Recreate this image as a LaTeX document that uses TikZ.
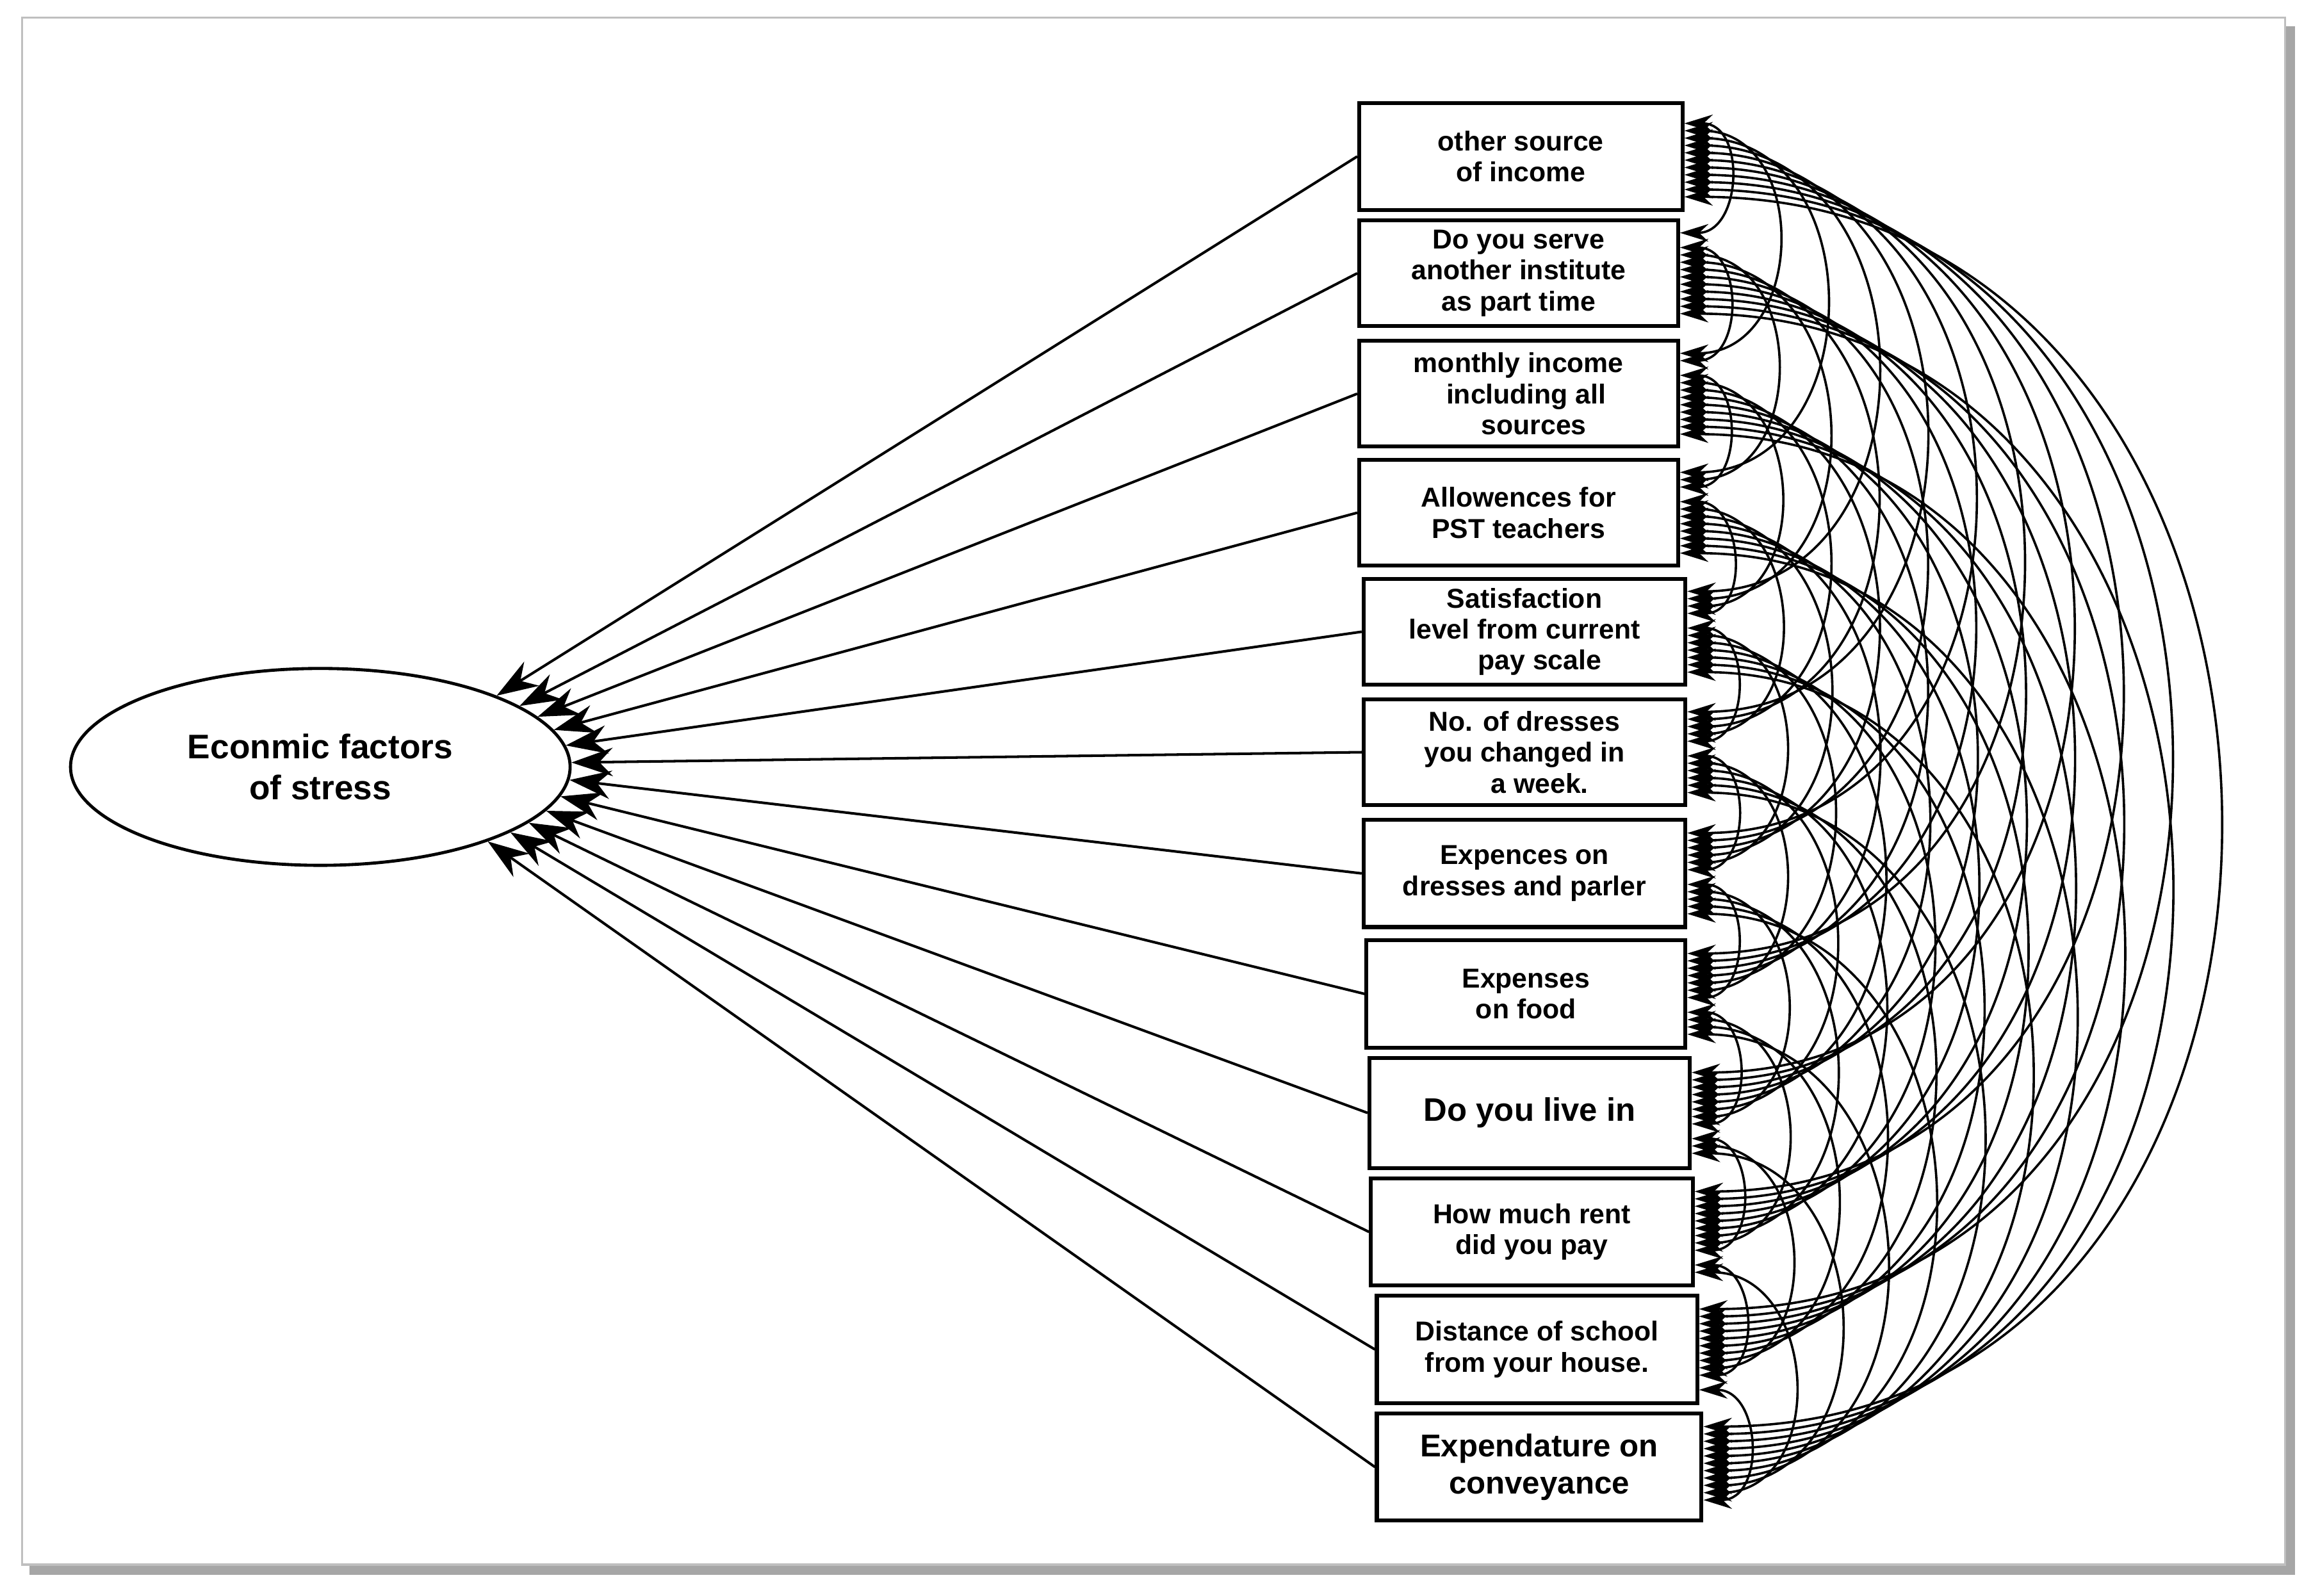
\documentclass[tikz,border=0pt]{standalone}
\usepackage{fontspec}
\setmainfont{Liberation Sans}
\usetikzlibrary{arrows.meta,shapes.geometric}
\begin{document}
\begin{tikzpicture}[x=0.01cm,y=-0.01cm,
  box/.style={draw,line width=0.75pt,fill=white,align=center,inner sep=0pt,
    font=\fontsize{5.3}{6}\selectfont\bfseries},
  path/.style={line width=0.5pt,-{Stealth[length=8pt,width=5.5pt]}},
  cov/.style={line width=0.45pt,{Stealth[length=5.5pt,width=3.4pt]}-{Stealth[length=5.5pt,width=3.4pt]}}]
\useasboundingbox (0,0) rectangle (1568,1086);
\fill[white] (0,0) rectangle (1568,1086);
\fill[black!35] (20,18) rectangle (1562,1072);
\draw[black!25,fill=white] (15,12) rectangle (1555,1065);
\node[ellipse,draw,line width=0.6pt,minimum width=340*0.01cm,minimum height=134*0.01cm,inner sep=0pt,align=center,
  font=\fontsize{6.6}{8}\selectfont\bfseries] (e) at (218,522) {Econmic factors\\of stress};
\node[box,minimum width=220*0.01cm,minimum height=73*0.01cm] (b1) at (1035,106.5) {other source\\of income};
\node[box,minimum width=217*0.01cm,minimum height=72*0.01cm] (b2) at (1033.5,186) {Do you serve\\another institute\\as part time};
\node[box,minimum width=217*0.01cm,minimum height=72*0.01cm] (b3) at (1033.5,268) {monthly income\\\ \ including all\\\ \ \ \ sources};
\node[box,minimum width=217*0.01cm,minimum height=72*0.01cm] (b4) at (1033.5,349) {Allowences for\\PST teachers};
\node[box,minimum width=219*0.01cm,minimum height=72*0.01cm] (b5) at (1037.5,430) {Satisfaction\\level from current\\\ \ \ \ pay scale};
\node[box,minimum width=219*0.01cm,minimum height=72*0.01cm] (b6) at (1037.5,512) {No. of dresses\\you changed in\\\ \ \ \ a week.};
\node[box,minimum width=219*0.01cm,minimum height=73*0.01cm] (b7) at (1037.5,594.5) {Expences on\\dresses and parler};
\node[box,minimum width=217*0.01cm,minimum height=73*0.01cm] (b8) at (1038.5,676.5) {Expenses\\on food};
\node[box,minimum width=218*0.01cm,minimum height=75*0.01cm,font=\fontsize{6.3}{7.5}\selectfont\bfseries] (b9) at (1041,757.5) {Do you live in};
\node[box,minimum width=219*0.01cm,minimum height=73*0.01cm] (b10) at (1042.5,838.5) {How much rent\\did you pay};
\node[box,minimum width=218*0.01cm,minimum height=73*0.01cm] (b11) at (1046,918.5) {Distance of school\\from your house.};
\node[box,minimum width=221*0.01cm,minimum height=73*0.01cm,font=\fontsize{6.1}{7.2}\selectfont\bfseries] (b12) at (1047.5,998.5) {Expendature on\\conveyance};
\foreach \i in {1,...,12}{
  \pgfmathsetmacro{\a}{22-(\i-1)*46/11}
  \draw[path] (b\i.west) -- (e.\a);
}
\foreach \i in {1,...,11}{
  \pgfmathtruncatemacro{\s}{\i+1}
  \foreach \j in {\s,...,12}{
    \pgfmathsetmacro{\oi}{(\j-6.5)*5}
    \pgfmathsetmacro{\oj}{(\i-6.5)*5}
    \draw[cov] ([yshift=-\oi*0.01cm]b\i.east) to[out=0,in=0,looseness=1.45] ([yshift=-\oj*0.01cm]b\j.east);
  }
}
\end{tikzpicture}
\end{document}
